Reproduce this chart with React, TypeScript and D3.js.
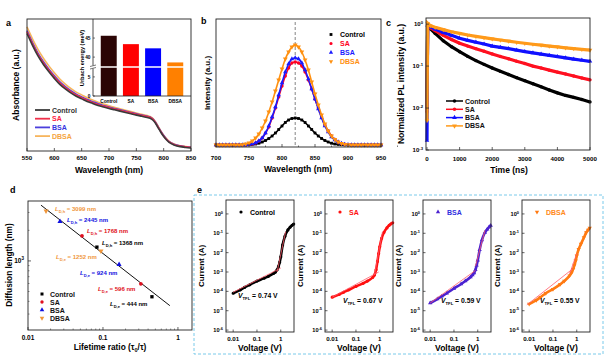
import React from 'react';
import * as d3 from 'd3';

const FONT = "'Liberation Sans', Arial, Helvetica, sans-serif";

// ---------- Panel a : absorbance ----------
const absWavelength = [550,560,570,580,590,600,610,620,630,640,650,660,670,680,690,700,710,720,730,740,750,760,770,775,780,785,790,795,800,805,810,820,830,840,850];
const absControl = [0.89,0.80,0.72,0.655,0.60,0.55,0.505,0.47,0.44,0.415,0.395,0.375,0.36,0.345,0.333,0.322,0.312,0.302,0.292,0.282,0.272,0.263,0.254,0.248,0.235,0.21,0.175,0.14,0.11,0.085,0.065,0.044,0.033,0.027,0.023];
const absSA = [0.902,0.812,0.732,0.667,0.611,0.561,0.516,0.48,0.45,0.424,0.404,0.384,0.368,0.353,0.34,0.329,0.319,0.309,0.299,0.289,0.279,0.27,0.261,0.255,0.241,0.215,0.18,0.145,0.114,0.089,0.069,0.048,0.037,0.031,0.027];
const absBSA = [0.912,0.822,0.742,0.676,0.62,0.57,0.524,0.488,0.457,0.431,0.41,0.39,0.374,0.358,0.345,0.333,0.322,0.312,0.302,0.292,0.282,0.272,0.263,0.257,0.243,0.218,0.183,0.148,0.117,0.091,0.071,0.05,0.039,0.032,0.028];
const absDBSA = [0.94,0.85,0.77,0.703,0.645,0.593,0.545,0.507,0.474,0.446,0.425,0.403,0.386,0.37,0.356,0.343,0.331,0.32,0.309,0.299,0.288,0.278,0.269,0.262,0.248,0.222,0.187,0.151,0.12,0.094,0.073,0.052,0.04,0.034,0.03];
const absTicks = [550,600,650,700,750,800,850];

const urbachCategories = ['Control','SA','BSA','DBSA'];
const urbachEnergy = [45.6, 43.4, 42.3, 38.6];
const urbachTicks = [0, 5, 40, 45];

// ---------- Panel b : PL ----------
const plWavelength = [700,705,710,715,720,725,730,735,740,745,750,755,760,765,770,775,780,785,790,795,800,805,810,815,820,825,830,835,840,845,850,855,860,865,870,875,880,885,890,895,900,905,910,915,920,925,930,935,940,945,950];
const plControl = [0,0,0,0,0,0,0,0,0,0,0.003,0.006,0.01,0.018,0.03,0.045,0.065,0.09,0.12,0.155,0.19,0.225,0.25,0.265,0.27,0.265,0.25,0.225,0.19,0.155,0.12,0.09,0.065,0.045,0.03,0.018,0.01,0.006,0.003,0.001,0,0,0,0,0,0,0,0,0,0,0];
const plSA = [0,0,0,0,0,0,0,0,0,0,0.004,0.01,0.02,0.04,0.07,0.12,0.18,0.27,0.37,0.48,0.59,0.69,0.77,0.82,0.83,0.82,0.79,0.73,0.65,0.56,0.46,0.37,0.28,0.2,0.14,0.09,0.055,0.03,0.016,0.008,0.004,0,0,0,0,0,0,0,0,0,0];
const plBSA = [0,0,0,0,0,0,0,0,0,0,0.005,0.01,0.02,0.04,0.07,0.12,0.19,0.28,0.38,0.5,0.62,0.73,0.81,0.86,0.87,0.86,0.82,0.75,0.66,0.56,0.46,0.36,0.27,0.19,0.13,0.08,0.05,0.03,0.015,0.007,0.003,0,0,0,0,0,0,0,0,0,0];
const plDBSA = [0,0,0,0,0,0,0,0,0.003,0.01,0.02,0.04,0.07,0.11,0.17,0.24,0.33,0.43,0.54,0.65,0.76,0.86,0.93,0.98,1.0,0.98,0.93,0.85,0.75,0.63,0.51,0.4,0.3,0.21,0.14,0.09,0.055,0.03,0.015,0.007,0.003,0,0,0,0,0,0,0,0,0,0];
const plTicks = [700,750,800,850,900,950];
const plPeak = 820;

// ---------- Panel c : TRPL ----------
const trTime = [0,20,100,250,500,750,1000,1250,1500,1750,2000,2250,2500,2750,3000,3250,3500,3750,4000,4250,4500,4750,5000];
const trControl = [0.01,0.9,0.78,0.6,0.4,0.29,0.22,0.17,0.135,0.11,0.09,0.075,0.063,0.053,0.045,0.038,0.032,0.027,0.023,0.02,0.018,0.016,0.014];
const trSA = [0.008,0.92,0.82,0.7,0.54,0.43,0.35,0.3,0.26,0.225,0.195,0.17,0.15,0.13,0.115,0.1,0.09,0.08,0.072,0.065,0.058,0.052,0.047];
const trBSA = [0.0017,0.95,0.86,0.76,0.63,0.54,0.46,0.41,0.37,0.335,0.3,0.28,0.26,0.24,0.222,0.207,0.193,0.18,0.168,0.157,0.147,0.138,0.13];
const trDBSA = [0.005,1.05,0.92,0.84,0.74,0.66,0.6,0.55,0.51,0.475,0.445,0.418,0.393,0.37,0.35,0.332,0.315,0.3,0.286,0.273,0.261,0.25,0.24];
const trTicks = [0,1000,2000,3000,4000,5000];

// ---------- Panel d : diffusion length ----------
const dRatioControl = [0.083, 0.45];
const dRatioSA = [0.0525, 0.32];
const dRatioBSA = [0.0267, 0.164];
const dRatioDBSA = [0.0174, 0.094];
const dLenControl = [1368, 444];
const dLenSA = [1768, 596];
const dLenBSA = [2445, 924];
const dLenDBSA = [3099, 1252];
const dFitRatio = [0.0149, 0.78];
const dFitLen = [3540, 363];

// ---------- Panel e : SCLC ----------
const eVoltage = [0.01,0.02,0.03,0.05,0.1,0.2,0.3,0.5,0.6,0.7,0.8,0.9,1.0,1.2,1.5,2.0,2.5,3.0,3.5];
const eControl = [8e-5,1.2e-4,1.6e-4,2.2e-4,3.4e-4,4.8e-4,6e-4,8.5e-4,1e-3,1.3e-3,1.9e-3,3.2e-3,6e-3,2.5e-2,7e-2,1.5e-1,2.1e-1,2.6e-1,3e-1];
const eSA = [5e-5,7e-5,9e-5,1.2e-4,1.8e-4,2.6e-4,3.4e-4,5.2e-4,7e-4,1.3e-3,3.5e-3,9e-3,2e-2,5.5e-2,1.1e-1,1.9e-1,2.6e-1,3.1e-1,3.5e-1];
const eBSA = [2.5e-5,4e-5,5.5e-5,8e-5,1.4e-4,2.4e-4,3.4e-4,5.5e-4,7e-4,9e-4,1.3e-3,2.2e-3,4e-3,1.4e-2,4.5e-2,1.1e-1,1.6e-1,2.1e-1,2.5e-1];
const eDBSA = [2.2e-5,3.5e-5,5e-5,8e-5,1.3e-4,2.3e-4,3.4e-4,6.5e-4,9e-4,1.4e-3,2.3e-3,3.8e-3,7e-3,1.5e-2,2.8e-2,6e-2,1.1e-1,1.5e-1,1.9e-1];
const eVtfl = ['0.74', '0.67', '0.59', '0.55'];
const eFitLowV = [[0.01, 1.0], [0.01, 0.9], [0.01, 0.8], [0.008, 0.7]];
const eFitLowI = [[9e-5, 1.6e-3], [5e-5, 1e-3], [2.5e-5, 1.2e-3], [2e-5, 1.5e-3]];
const eFitHighV = [[0.7, 1.6], [0.6, 1.3], [0.8, 2.0], [0.5, 1.0]];
const eFitHighI = [[1e-3, 1.2e-1], [7e-4, 1.2e-1], [2e-3, 1.4e-1], [8e-4, 9e-3]];
const eExponents = [0, -1, -2, -3, -4, -5, -6];
const eVTicks = [0.01, 0.1, 1];

const STROKE = '#222';

function sym(type, size) {
  const t = type === 'square' ? d3.symbolSquare : type === 'circle' ? d3.symbolCircle : d3.symbolTriangle;
  return d3.symbol(t, size)();
}

function Marker({ type, x, y, size, color }) {
  const down = type === 'down';
  return (
    <path d={sym(type, size)} fill={color}
      transform={`translate(${x},${y})${down ? ' rotate(180)' : ''}`} />
  );
}

function Pow({ x, y, e, size = 6, anchor = 'end' }) {
  return (
    <text x={x} y={y} textAnchor={anchor} fontSize={size} fontWeight="bold">
      10<tspan dy={-size * 0.42} fontSize={size * 0.7}>{e}</tspan>
    </text>
  );
}

function Frame({ x0, x1, y0, y1 }) {
  return <rect x={x0} y={y0} width={x1 - x0} height={y1 - y0} fill="none" stroke={STROKE} strokeWidth={0.9} />;
}

function PanelA() {
  const x = d3.scaleLinear([550, 850], [27, 191]);
  const y = d3.scaleLinear([0, 1], [151, 19]);
  const line = d3.line().x((d) => x(d[0])).y((d) => y(d[1])).curve(d3.curveMonotoneX);
  const series = [
    { name: 'Control', v: absControl, c: '#3a3a3a', tc: '#333333' },
    { name: 'SA', v: absSA, c: '#f0304a', tc: '#ff2040' },
    { name: 'BSA', v: absBSA, c: '#4b3fdc', tc: '#3535e0' },
    { name: 'DBSA', v: absDBSA, c: '#f7b55e', tc: '#f5a540' },
  ];
  const yi = d3.scaleLinear().domain([0, 7.6, 37.4, 50]).range([96, 67, 67, 19]);
  const xi = d3.scaleBand(urbachCategories, [93, 191]).paddingInner(0.28).paddingOuter(0.35);
  const barColors = ['#2b0505', '#ff0000', '#0000ff', '#ff8000'];
  return (
    <g>
      <text x={6} y={26} fontSize={9} fontWeight="bold">a</text>
      {[...series].reverse().map((s) => (
        <path key={s.name} d={line(absWavelength.map((w, i) => [w, s.v[i]]))} fill="none" stroke={s.c} strokeWidth={1.6} />
      ))}
      {/* inset */}
      {urbachCategories.map((c, i) => (
        <rect key={c} x={xi(c)} width={xi.bandwidth()} y={yi(urbachEnergy[i])} height={yi(0) - yi(urbachEnergy[i])} fill={barColors[i]} />
      ))}
      <line x1={93} x2={191} y1={67} y2={67} stroke="#fff" strokeWidth={1.6} />
      <line x1={93} x2={93} y1={19} y2={96} stroke={STROKE} strokeWidth={0.8} />
      <line x1={93} x2={191} y1={96} y2={96} stroke={STROKE} strokeWidth={0.8} />
      <rect x={90} y={65.5} width={6} height={3} fill="#fff" />
      <line x1={90} x2={96} y1={66.5} y2={65} stroke={STROKE} strokeWidth={0.6} />
      <line x1={90} x2={96} y1={69} y2={67.5} stroke={STROKE} strokeWidth={0.6} />
      {urbachTicks.map((t) => (
        <g key={t}>
          <line x1={93} x2={95} y1={yi(t)} y2={yi(t)} stroke={STROKE} strokeWidth={0.6} />
          <text x={90.5} y={yi(t) + 1.7} fontSize={4.8} fontWeight="bold" textAnchor="end">{t}</text>
        </g>
      ))}
      {urbachCategories.map((c) => (
        <text key={c} x={xi(c) + xi.bandwidth() / 2} y={102.5} fontSize={4.8} fontWeight="bold" textAnchor="middle">{c}</text>
      ))}
      <text transform="translate(84,58) rotate(-90)" fontSize={5.6} fontWeight="bold" textAnchor="middle">Urbach energy (meV)</text>
      <Frame x0={27} x1={191} y0={19} y1={151} />
      {absTicks.map((t) => (
        <g key={t}>
          <line x1={x(t)} x2={x(t)} y1={151} y2={148} stroke={STROKE} strokeWidth={0.7} />
          <text x={x(t)} y={160} fontSize={6.2} fontWeight="bold" textAnchor="middle">{t}</text>
        </g>
      ))}
      <text x={109} y={173} fontSize={8.5} fontWeight="bold" textAnchor="middle">Wavelength (nm)</text>
      <text transform="translate(19,85) rotate(-90)" fontSize={8.5} fontWeight="bold" textAnchor="middle">Absorbance (a.u.)</text>
      {series.map((s, i) => (
        <g key={s.name}>
          <line x1={35} x2={50} y1={110 + i * 8.7} y2={110 + i * 8.7} stroke={s.c} strokeWidth={1.8} />
          <text x={52} y={112.5 + i * 8.7} fontSize={7} fontWeight="bold" fill={s.tc}>{s.name}</text>
        </g>
      ))}
    </g>
  );
}

function PanelB() {
  const x = d3.scaleLinear([700, 950], [216, 381]);
  const y = d3.scaleLinear([-0.02, 1.26], [147, 19]);
  const line = d3.line().x((d) => x(d[0])).y((d) => y(d[1])).curve(d3.curveMonotoneX);
  const series = [
    { name: 'Control', v: plControl, c: '#000000', m: 'square', s: 8 },
    { name: 'SA', v: plSA, c: '#ff0022', m: 'circle', s: 9 },
    { name: 'BSA', v: plBSA, c: '#1a1aff', m: 'triangle', s: 9 },
    { name: 'DBSA', v: plDBSA, c: '#ff9010', m: 'down', s: 10 },
  ];
  return (
    <g>
      <text x={201} y={24} fontSize={9} fontWeight="bold">b</text>
      <line x1={x(plPeak)} x2={x(plPeak)} y1={22} y2={147} stroke="#777" strokeWidth={0.9} strokeDasharray="3,2" />
      {series.map((s) => (
        <g key={s.name}>
          <path d={line(plWavelength.map((w, i) => [w, s.v[i]]))} fill="none" stroke={s.c} strokeWidth={1.6} />
          {plWavelength.map((w, i) => (
            <Marker key={i} type={s.m} x={x(w)} y={y(s.v[i])} size={s.s} color={s.c} />
          ))}
        </g>
      ))}
      <Frame x0={216} x1={381} y0={19} y1={147} />
      {plTicks.map((t) => (
        <g key={t}>
          <line x1={x(t)} x2={x(t)} y1={147} y2={144} stroke={STROKE} strokeWidth={0.7} />
          <line x1={x(t + 25)} x2={x(t + 25)} y1={147} y2={145.5} stroke={STROKE} strokeWidth={0.6} />
          <text x={x(t)} y={160} fontSize={6.2} fontWeight="bold" textAnchor="middle">{t}</text>
        </g>
      ))}
      <text x={298} y={172} fontSize={8.5} fontWeight="bold" textAnchor="middle">Wavelength (nm)</text>
      <text transform="translate(210,83) rotate(-90)" fontSize={8} fontWeight="bold" textAnchor="middle">Intensity (a.u.)</text>
      {series.map((s, i) => (
        <g key={s.name}>
          <Marker type={s.m} x={331} y={34.5 + i * 9} size={8} color={s.c} />
          <text x={340} y={37 + i * 9} fontSize={7} fontWeight="bold" fill={s.c}>{s.name}</text>
        </g>
      ))}
    </g>
  );
}

function PanelC() {
  const x = d3.scaleLinear([0, 5000], [427, 590]);
  const y = d3.scaleLog([1e-3, 1.4], [150, 18]);
  const line = d3.line().x((d) => x(d[0])).y((d) => y(d[1]));
  const series = [
    { name: 'Control', v: trControl, c: '#000000', m: 'circle' },
    { name: 'SA', v: trSA, c: '#ff1020', m: 'circle' },
    { name: 'BSA', v: trBSA, c: '#1010ff', m: 'triangle' },
    { name: 'DBSA', v: trDBSA, c: '#ff9a1a', m: 'down' },
  ];
  return (
    <g>
      <text x={386} y={26} fontSize={9} fontWeight="bold">c</text>
      {series.map((s) => (
        <g key={s.name}>
          <path d={line(trTime.map((t, i) => [t, s.v[i]]))} fill="none" stroke={s.c} strokeWidth={3.2} />
          {trTime.map((t, i) => (
            <Marker key={i} type={s.m} x={x(t)} y={y(s.v[i])} size={9} color={s.c} />
          ))}
        </g>
      ))}
      <Frame x0={426} x1={590} y0={18} y1={150} />
      {trTicks.map((t) => (
        <g key={t}>
          <line x1={x(t)} x2={x(t)} y1={150} y2={147} stroke={STROKE} strokeWidth={0.7} />
          <text x={x(t)} y={161} fontSize={6.2} fontWeight="bold" textAnchor="middle">{t}</text>
        </g>
      ))}
      {[0, -1, -2, -3].map((e) => (
        <g key={e}>
          <line x1={426} x2={429} y1={y(Math.pow(10, e))} y2={y(Math.pow(10, e))} stroke={STROKE} strokeWidth={0.7} />
          <Pow x={423} y={y(Math.pow(10, e)) + 2.2} e={e} size={6} />
        </g>
      ))}
      <text x={509} y={173} fontSize={8.5} fontWeight="bold" textAnchor="middle">Time (ns)</text>
      <text transform="translate(404,84) rotate(-90)" fontSize={8.6} fontWeight="bold" textAnchor="middle">Normalized PL intensity (a.u.)</text>
      {series.map((s, i) => (
        <g key={s.name}>
          <line x1={446} x2={463} y1={101 + i * 8.3} y2={101 + i * 8.3} stroke={s.c} strokeWidth={1.5} />
          <Marker type={s.m} x={454.5} y={101 + i * 8.3} size={10} color={s.c} />
          <text x={465} y={103.5 + i * 8.3} fontSize={7} fontWeight="bold" fill="#111">{s.name}</text>
        </g>
      ))}
    </g>
  );
}

function PanelD() {
  const x = d3.scaleLog([0.01, 1.54], [28, 192]);
  const y = d3.scaleLog([209, 3890], [330, 201]);
  const series = [
    { name: 'Control', r: dRatioControl, l: dLenControl, c: '#000000', m: 'square' },
    { name: 'SA', r: dRatioSA, l: dLenSA, c: '#e01020', m: 'circle' },
    { name: 'BSA', r: dRatioBSA, l: dLenBSA, c: '#1010e0', m: 'triangle' },
    { name: 'DBSA', r: dRatioDBSA, l: dLenDBSA, c: '#f0963a', m: 'down' },
  ];
  const labelPos = [
    [[102, 245], [110, 306]],
    [[87, 233], [98, 291]],
    [[67, 222], [80, 275]],
    [[55, 211], [56, 259]],
  ];
  const subs = ['D,h', 'D,e'];
  const minorX = [0.02,0.03,0.04,0.05,0.06,0.07,0.08,0.09,0.2,0.3,0.4,0.5,0.6,0.7,0.8,0.9];
  const minorY = [300,400,500,600,700,800,900,2000,3000];
  return (
    <g>
      <text x={10} y={193} fontSize={9} fontWeight="bold">d</text>
      <line x1={x(dFitRatio[0])} y1={y(dFitLen[0])} x2={x(dFitRatio[1])} y2={y(dFitLen[1])} stroke="#111" strokeWidth={1} />
      {series.map((s) => s.r.map((r, i) => (
        <Marker key={s.name + i} type={s.m} x={x(r)} y={y(s.l[i])} size={11} color={s.c} />
      )))}
      {series.map((s, si) => s.l.map((L, i) => (
        <text key={s.name + 't' + i} x={labelPos[si][i][0]} y={labelPos[si][i][1]} fontSize={6} fontWeight="bold" fill={s.c}>
          <tspan fontStyle="italic">L</tspan>
          <tspan dy={1.6} fontSize={4}>{subs[i]}</tspan>
          <tspan dy={-1.6}>{` = ${L} nm`}</tspan>
        </text>
      )))}
      <Frame x0={28} x1={192} y0={201} y1={330} />
      {[0.01, 0.1, 1].map((t) => (
        <g key={t}>
          <line x1={x(t)} x2={x(t)} y1={330} y2={327} stroke={STROKE} strokeWidth={0.7} />
          <text x={x(t)} y={340} fontSize={6.5} fontWeight="bold" textAnchor="middle">{t}</text>
        </g>
      ))}
      {minorX.map((t) => (
        <line key={t} x1={x(t)} x2={x(t)} y1={330} y2={328.5} stroke={STROKE} strokeWidth={0.5} />
      ))}
      <line x1={28} x2={31} y1={y(1000)} y2={y(1000)} stroke={STROKE} strokeWidth={0.7} />
      {minorY.map((t) => (
        <line key={t} x1={28} x2={29.5} y1={y(t)} y2={y(t)} stroke={STROKE} strokeWidth={0.5} />
      ))}
      <text x={24} y={y(1000) + 2.2} textAnchor="end" fontSize={6.5} fontWeight="bold">10<tspan dy={-2.7} fontSize={4.5}>3</tspan></text>
      <text x={110} y={350} fontSize={8.3} textAnchor="middle" fontWeight="600">Lifetime ratio (τ<tspan dy={1.5} fontSize={5.5}>0</tspan><tspan dy={-1.5}>/τ)</tspan></text>
      <text transform="translate(12,265) rotate(-90)" fontSize={8.3} fontWeight="bold" textAnchor="middle">Diffusion length (nm)</text>
      {series.map((s, i) => (
        <g key={s.name}>
          <Marker type={s.m} x={42} y={294 + i * 8} size={9} color={s.c} />
          <text x={50} y={296.5 + i * 8} fontSize={7} fontWeight="bold" fill="#111">{s.name}</text>
        </g>
      ))}
    </g>
  );
}

function PanelE() {
  const lefts = [226, 325, 423, 522];
  const w = 68;
  const y = d3.scaleLog([Math.pow(10, -6.1), Math.pow(10, 0.72)], [332, 200]);
  const series = [
    { name: 'Control', v: eControl, c: '#000000', m: 'circle', lc: '#000' },
    { name: 'SA', v: eSA, c: '#ff1010', m: 'circle', lc: '#ff1010' },
    { name: 'BSA', v: eBSA, c: '#4b22d0', m: 'triangle', lc: '#3030e0' },
    { name: 'DBSA', v: eDBSA, c: '#ff7a12', m: 'down', lc: '#ff8a20' },
  ];
  return (
    <g>
      <rect x={194} y={195} width={409} height={159} fill="none" stroke="#6cc4e8" strokeWidth={0.9} strokeDasharray="3,2" />
      <text x={197} y={193} fontSize={9} fontWeight="bold">e</text>
      {series.map((s, k) => {
        const L = lefts[k];
        const x = d3.scaleLog([0.005, 3.6], [L, L + w]);
        const line = d3.line().x((d) => x(d[0])).y((d) => y(d[1])).curve(d3.curveMonotoneX);
        const pts = eVoltage.map((v, i) => [v, s.v[i]]);
        return (
          <g key={s.name}>
            <path d={line(pts)} fill="none" stroke={s.c} strokeWidth={2.6} />
            {pts.map((p, i) => (
              <Marker key={i} type={s.m} x={x(p[0])} y={y(p[1])} size={8} color={s.c} />
            ))}
            <line x1={x(eFitLowV[k][0])} y1={y(eFitLowI[k][0])} x2={x(eFitLowV[k][1])} y2={y(eFitLowI[k][1])} stroke="#ff5a6a" strokeWidth={0.8} />
            <line x1={x(eFitHighV[k][0])} y1={y(eFitHighI[k][0])} x2={x(eFitHighV[k][1])} y2={y(eFitHighI[k][1])} stroke="#ff5a6a" strokeWidth={0.8} />
            <Frame x0={L} x1={L + w} y0={200} y1={332} />
            {eVTicks.map((t) => (
              <g key={t}>
                <line x1={x(t)} x2={x(t)} y1={332} y2={329.5} stroke={STROKE} strokeWidth={0.7} />
                <text x={x(t)} y={341} fontSize={6.2} fontWeight="bold" textAnchor="middle">{t}</text>
              </g>
            ))}
            {eExponents.map((e) => (
              <g key={e}>
                <line x1={L} x2={L + 2.5} y1={y(Math.pow(10, e))} y2={y(Math.pow(10, e))} stroke={STROKE} strokeWidth={0.7} />
                <Pow x={L - 3} y={y(Math.pow(10, e)) + 2} e={e} size={5.6} />
              </g>
            ))}
            <text x={L + 34} y={351} fontSize={8.5} fontWeight="bold" textAnchor="middle">Voltage (V)</text>
            <text transform={`translate(${L - 22},266) rotate(-90)`} fontSize={8} fontWeight="bold" textAnchor="middle">Current (A)</text>
            <Marker type={s.m} x={L + 15} y={212} size={8} color={s.c} />
            <text x={L + 24} y={214.5} fontSize={7} fontWeight="bold" fill={s.lc}>{s.name}</text>
            <text x={L + (k === 0 ? 12 : 18)} y={k === 0 ? 298 : 303} fontSize={6.8} fontWeight="bold">
              <tspan fontStyle="italic">V</tspan>
              <tspan dy={1.6} fontSize={4.2}>TFL</tspan>
              <tspan dy={-1.6}>{` = ${eVtfl[k]} V`}</tspan>
            </text>
          </g>
        );
      })}
    </g>
  );
}

export default function App() {
  return (
    <svg width={606} height={363} viewBox="0 0 606 363" fontFamily={FONT}
      style={{ position: 'fixed', left: 0, top: 0, display: 'block', background: '#fff' }}>
      <rect width={606} height={363} fill="#fff" />
      <PanelA />
      <PanelB />
      <PanelC />
      <PanelD />
      <PanelE />
    </svg>
  );
}
